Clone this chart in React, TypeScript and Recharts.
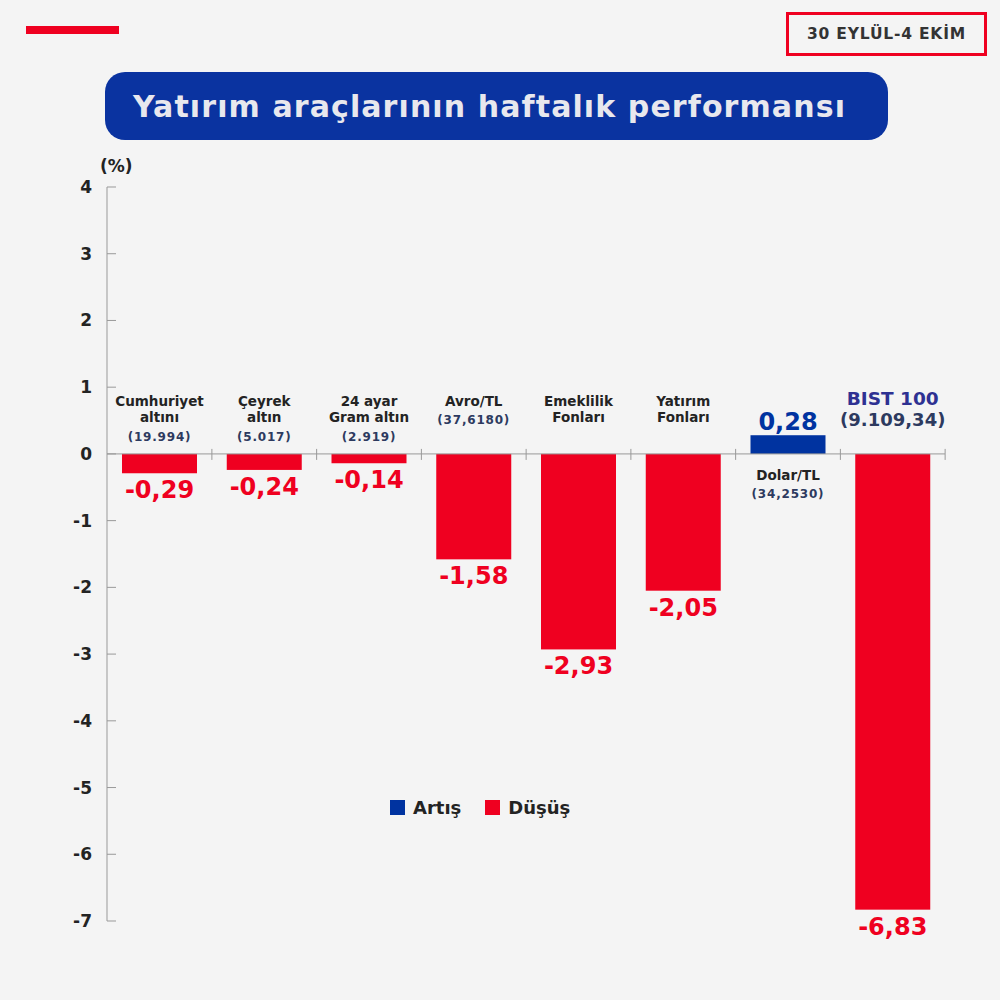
import { Bar, BarChart, Cell, ReferenceLine, YAxis } from 'recharts'

const nameLines = [
  ['Cumhuriyet', 'altını'],
  ['Çeyrek', 'altın'],
  ['24 ayar', 'Gram altın'],
  ['Avro/TL'],
  ['Emeklilik', 'Fonları'],
  ['Yatırım', 'Fonları'],
  ['Dolar/TL'],
  ['BIST 100'],
]
const prices = ['(19.994)', '(5.017)', '(2.919)', '(37,6180)', '', '', '(34,2530)', '(9.109,34)']
const values = [-0.29, -0.24, -0.14, -1.58, -2.93, -2.05, 0.28, -6.83]
const yTicks = [-7, -6, -5, -4, -3, -2, -1, 0, 1, 2, 3, 4]

const data = values.map((value, i) => ({ key: nameLines[i].join(' '), lines: nameLines[i], price: prices[i], value }))

const RED = '#ef0020'
const BLUE = '#0033a0'
const INK = '#232323'
const NAVY = '#2d3a5f'
const FONT = '"DejaVu Sans", Verdana, sans-serif'
const PLOT_LEFT = 107
const PLOT_RIGHT = 945
const BAND = (PLOT_RIGHT - PLOT_LEFT) / values.length

const fmt = (v: number) => v.toFixed(2).replace('.', ',')

function YTick({ x, y, payload }: any) {
  return (
    <g>
      <line x1={x} x2={x + 9} y1={y} y2={y} stroke="#999" />
      <text x={x - 15} y={y} dy={6} textAnchor="end" fontSize={17} fontWeight={700} fill={INK} fontFamily={FONT}>
        {payload.value}
      </text>
    </g>
  )
}

function BarShape(props: any) {
  const { x, y, width, height, fill, payload } = props
  const top = Math.min(y, y + height)
  const bottom = Math.max(y, y + height)
  const neg = payload.value < 0
  const zero = neg ? top : bottom
  const end = neg ? bottom : top
  const cx = x + width / 2
  const tickX = cx + BAND / 2
  const isBist = payload.key === 'BIST 100'
  const lines: string[] = payload.lines

  let label
  if (!neg) {
    label = (
      <g>
        <text x={cx} y={zero + 26} textAnchor="middle" fontSize={13.5} fontWeight={700} fill={INK}>{lines[0]}</text>
        <text x={cx} y={zero + 44} textAnchor="middle" fontSize={12} fontWeight={700} fill={NAVY} letterSpacing={0.8}>{payload.price}</text>
      </g>
    )
  } else if (isBist) {
    label = (
      <g>
        <text x={cx} y={zero - 49} textAnchor="middle" fontSize={18.5} fontWeight={700} fill="#2e3192">{lines[0]}</text>
        <text x={cx} y={zero - 28} textAnchor="middle" fontSize={18} fontWeight={700} fill={NAVY}>{payload.price}</text>
      </g>
    )
  } else {
    label = (
      <g>
        {lines.map((l, i) => (
          <text key={l} x={cx} y={zero - 48 + i * 16} textAnchor="middle" fontSize={13.5} fontWeight={700} fill={INK}>{l}</text>
        ))}
        {payload.price && (
          <text x={cx} y={lines.length > 1 ? zero - 13 : zero - 30} textAnchor="middle" fontSize={12} fontWeight={700} fill={NAVY} letterSpacing={0.8}>
            {payload.price}
          </text>
        )}
      </g>
    )
  }

  return (
    <g fontFamily={FONT}>
      <rect x={x} y={top} width={width} height={bottom - top} fill={fill} />
      <line x1={tickX} x2={tickX} y1={zero - 5} y2={zero + 6} stroke="#999" />
      {label}
      <text
        x={cx}
        y={neg ? end + 25 : end - 5}
        textAnchor="middle"
        fontSize={24}
        fontWeight={700}
        fill={neg ? RED : BLUE}
      >
        {fmt(payload.value)}
      </text>
    </g>
  )
}

function LegendBox() {
  const item = (color: string, text: string) => (
    <span style={{ display: 'inline-flex', alignItems: 'center', marginRight: 24 }}>
      <span style={{ width: 15, height: 15, background: color, display: 'inline-block', marginRight: 8 }} />
      <span style={{ fontSize: 18, fontWeight: 700, color: INK }}>{text}</span>
    </span>
  )
  return (
    <div style={{ position: 'absolute', left: 390, top: 797, fontFamily: FONT, display: 'flex' }}>
      {item(BLUE, 'Artış')}
      {item(RED, 'Düşüş')}
    </div>
  )
}

export default function App() {
  return (
    <div style={{ position: 'absolute', left: 0, top: 0, width: 1000, height: 1000, background: '#f4f4f4', fontFamily: FONT, overflow: 'hidden' }}>
      <div style={{ position: 'absolute', left: 26, top: 26, width: 93, height: 8, background: RED }} />
      <div
        style={{
          position: 'absolute', left: 786, top: 12, width: 201, height: 44, boxSizing: 'border-box',
          border: `3px solid ${RED}`, display: 'flex', alignItems: 'center', justifyContent: 'center',
          fontSize: 15.5, fontWeight: 700, color: '#333', letterSpacing: 0.8,
        }}
      >
        30 EYLÜL-4 EKİM
      </div>
      <div
        style={{
          position: 'absolute', left: 105, top: 72, width: 783, height: 68, boxSizing: 'border-box',
          background: '#0a33a0', borderRadius: 20, paddingLeft: 28, display: 'flex', alignItems: 'center',
          fontSize: 30, fontWeight: 700, color: '#e8e8ee', whiteSpace: 'nowrap', letterSpacing: 1.1,
        }}
      >
        Yatırım araçlarının haftalık performansı
      </div>
      <div style={{ position: 'absolute', left: 100, top: 156, fontSize: 17, fontWeight: 700, color: INK }}>(%)</div>
      <div style={{ position: 'absolute', left: 0, top: 0 }}>
        <BarChart width={1000} height={1000} data={data} margin={{ top: 187, bottom: 79, left: 0, right: 55 }}>
          <YAxis
            domain={[-7, 4]}
            ticks={yTicks}
            type="number"
            width={PLOT_LEFT}
            tickLine={false}
            tickSize={0}
            tickMargin={0}
            stroke="#999"
            tick={<YTick />}
            interval={0}
          />
          <ReferenceLine y={0} stroke="#999" />
          <Bar dataKey="value" barSize={75} shape={<BarShape />} isAnimationActive={false}>
            {data.map((d) => (
              <Cell key={d.key} fill={d.value < 0 ? RED : BLUE} />
            ))}
          </Bar>
        </BarChart>
      </div>
      <LegendBox />
    </div>
  )
}
